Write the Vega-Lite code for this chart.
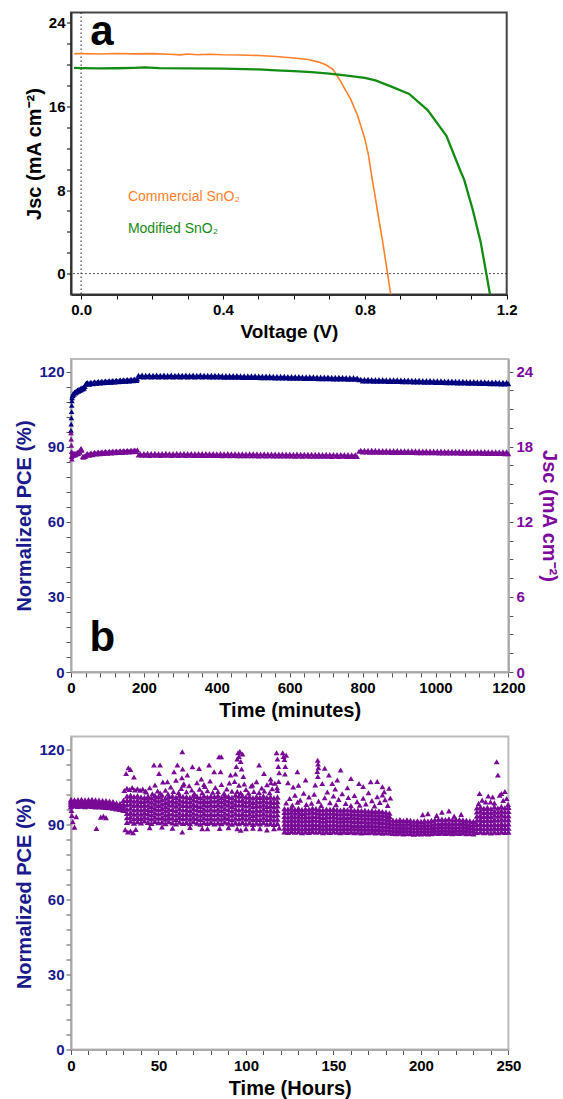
{
"$schema":"https://vega.github.io/schema/vega-lite/v6.json",
"background":"white",
"padding":{"left":13,"top":9.5,"right":0,"bottom":0},
"autosize":{"type":"pad"},
"bounds":"flush",
"spacing":64.5,
"config":{
 "font":"Liberation Sans",
 "axis":{"labelFont":"Liberation Sans","titleFont":"Liberation Sans","labelFontWeight":"bold","titleFontWeight":"bold","labelFontSize":15,"titleFontSize":20,"grid":false,"labelFlush":false,"labelOverlap":false,"tickSize":5},
 "text":{"font":"Liberation Sans"}
},
"vconcat":[
{
 "width":435.7,"height":282,
 "view":{"stroke":"#444444","strokeWidth":2},
 "resolve":{"axis":{"x":"independent","y":"independent"}},
 "layer":[
  {"data":{"values":[{}]},"mark":{"type":"rule","strokeDash":[1.5,2.5],"color":"#222222","strokeWidth":1},"encoding":{"x":{"datum":0,"type":"quantitative","axis":null}}},
  {"data":{"values":[{}]},"mark":{"type":"rule","strokeDash":[1.5,2.5],"color":"#222222","strokeWidth":1},"encoding":{"y":{"datum":0,"type":"quantitative","axis":null}}},
  {"data":{"values":[
   {"s":"Commercial","v":-0.02,"j":21.05},{"s":"Commercial","v":0,"j":21.06},{"s":"Commercial","v":0.05,"j":21.03},{"s":"Commercial","v":0.1,"j":21.08},{"s":"Commercial","v":0.15,"j":21.04},{"s":"Commercial","v":0.2,"j":21.06},{"s":"Commercial","v":0.25,"j":21.0},{"s":"Commercial","v":0.28,"j":20.94},{"s":"Commercial","v":0.3,"j":21.02},{"s":"Commercial","v":0.33,"j":20.95},{"s":"Commercial","v":0.36,"j":21.0},{"s":"Commercial","v":0.4,"j":20.95},{"s":"Commercial","v":0.45,"j":20.93},{"s":"Commercial","v":0.5,"j":20.88},{"s":"Commercial","v":0.55,"j":20.78},{"s":"Commercial","v":0.6,"j":20.65},{"s":"Commercial","v":0.64,"j":20.5},{"s":"Commercial","v":0.67,"j":20.25},{"s":"Commercial","v":0.69,"j":20.0},{"s":"Commercial","v":0.71,"j":19.55},{"s":"Commercial","v":0.73,"j":18.5},{"s":"Commercial","v":0.75,"j":17.3},{"s":"Commercial","v":0.76,"j":16.7},{"s":"Commercial","v":0.78,"j":15.1},{"s":"Commercial","v":0.8,"j":12.9},{"s":"Commercial","v":0.81,"j":11.4},{"s":"Commercial","v":0.82,"j":9.2},{"s":"Commercial","v":0.83,"j":7.2},{"s":"Commercial","v":0.84,"j":5.1},{"s":"Commercial","v":0.85,"j":3.1},{"s":"Commercial","v":0.86,"j":0.9},{"s":"Commercial","v":0.873,"j":-2.0},
   {"s":"Modified","v":-0.02,"j":19.7},{"s":"Modified","v":0,"j":19.68},{"s":"Modified","v":0.05,"j":19.65},{"s":"Modified","v":0.1,"j":19.66},{"s":"Modified","v":0.15,"j":19.7},{"s":"Modified","v":0.18,"j":19.74},{"s":"Modified","v":0.22,"j":19.68},{"s":"Modified","v":0.3,"j":19.65},{"s":"Modified","v":0.4,"j":19.62},{"s":"Modified","v":0.5,"j":19.55},{"s":"Modified","v":0.55,"j":19.45},{"s":"Modified","v":0.6,"j":19.38},{"s":"Modified","v":0.65,"j":19.3},{"s":"Modified","v":0.7,"j":19.15},{"s":"Modified","v":0.75,"j":18.95},{"s":"Modified","v":0.8,"j":18.75},{"s":"Modified","v":0.83,"j":18.5},{"s":"Modified","v":0.875,"j":17.9},{"s":"Modified","v":0.925,"j":17.2},{"s":"Modified","v":0.977,"j":15.65},{"s":"Modified","v":1.03,"j":13.2},{"s":"Modified","v":1.071,"j":9.7},{"s":"Modified","v":1.08,"j":9.0},{"s":"Modified","v":1.104,"j":6.15},{"s":"Modified","v":1.127,"j":2.95},{"s":"Modified","v":1.142,"j":0.1},{"s":"Modified","v":1.153,"j":-2.0}
  ]},
  "mark":{"type":"line","clip":true},
  "encoding":{
   "x":{"field":"v","type":"quantitative","scale":{"domain":[-0.0285,1.2],"nice":false,"zero":false},
        "axis":{"values":[0,0.1,0.2,0.3,0.4,0.5,0.6,0.7,0.8,0.9,1,1.1,1.2],"labelExpr":"indexof(['0.0','0.4','0.8','1.2'], format(datum.value, '.1f')) >= 0 ? format(datum.value, '.1f') : ''","title":"Voltage (V)","domainColor":"#333333","domainWidth":2,"tickColor":"#000000","tickSize":4.5,"labelPadding":3.5,"titlePadding":5,"labelColor":"#000000","titleColor":"#000000","titleFontSize":19}},
   "y":{"field":"j","type":"quantitative","scale":{"domain":[-2,25],"nice":false,"zero":false},
        "axis":{"values":[0,2,4,6,8,10,12,14,16,18,20,22,24],"labelExpr":"datum.value % 8 === 0 ? datum.label : ''","title":"Jsc (mA cm⁻²)","domainColor":"#333333","domainWidth":2,"tickColor":"#000000","tickSize":4.5,"labelPadding":1.5,"titlePadding":4,"labelColor":"#000000","titleColor":"#000000"}},
   "color":{"field":"s","type":"nominal","scale":{"domain":["Commercial","Modified"],"range":["#ff7f2a","#138c13"]},"legend":null},
   "strokeWidth":{"field":"s","type":"nominal","scale":{"domain":["Commercial","Modified"],"range":[1.6,2.3]},"legend":null}
  }},
  {"data":{"values":[{}]},"mark":{"type":"text","text":"a","fontSize":42,"fontWeight":"bold","align":"left","baseline":"alphabetic","color":"#000000"},"encoding":{"x":{"datum":0.026,"type":"quantitative","axis":null},"y":{"datum":21.9,"type":"quantitative","axis":null}}},
  {"data":{"values":[{}]},"mark":{"type":"text","text":"Commercial SnO₂","fontSize":14,"align":"left","baseline":"middle","color":"#ff7f2a"},"encoding":{"x":{"datum":0.132,"type":"quantitative","axis":null},"y":{"datum":7.36,"type":"quantitative","axis":null}}},
  {"data":{"values":[{}]},"mark":{"type":"text","text":"Modified SnO₂","fontSize":14,"align":"left","baseline":"middle","color":"#138c13"},"encoding":{"x":{"datum":0.132,"type":"quantitative","axis":null},"y":{"datum":4.3,"type":"quantitative","axis":null}}}
 ]
},
{
 "width":437.4,"height":313,
 "view":{"stroke":"#bbbbbb","strokeWidth":2},
 "data":{"values":[
  {"t":0,"p":96.5,"j":19.1},{"t":0.5,"p":99.0,"j":18.6},{"t":1,"p":101.5,"j":18.1},{"t":1.5,"p":104.0,"j":17.6},{"t":2,"p":106.5,"j":17.2},{"t":2.5,"p":108.3,"j":17.0},{"t":3,"p":109.5,"j":17.3},{"t":4,"p":110.3,"j":17.5},
  {"t":5,"p":110.4,"j":17.3},{"t":6,"p":111.2,"j":17.45},{"t":8,"p":110.9,"j":17.3},{"t":10,"p":111.8,"j":17.45},{"t":12,"p":111.4,"j":17.35},{"t":14,"p":112.2,"j":17.5},{"t":16,"p":111.8,"j":17.4},{"t":18,"p":112.6,"j":17.55},{"t":20,"p":112.1,"j":17.45},{"t":22,"p":112.9,"j":17.6},{"t":24,"p":112.4,"j":17.55},{"t":26,"p":113.2,"j":17.8},{"t":28,"p":112.7,"j":17.85},{"t":30,"p":113.5,"j":17.7},{"t":32,"p":113.0,"j":17.2},{"t":34,"p":113.8,"j":17.15},{"t":36,"p":113.3,"j":17.25},{"t":38,"p":114.0,"j":17.2},
  {"t":40,"p":115.0,"j":17.25},{"t":42.5,"p":115.4,"j":17.38},{"t":45,"p":115.6,"j":17.45},{"t":47.5,"p":115.1,"j":17.36},{"t":50,"p":114.9,"j":17.3},{"t":52.5,"p":115.5,"j":17.44},{"t":55,"p":115.7,"j":17.5},{"t":57.5,"p":115.2,"j":17.4},{"t":60,"p":115.1,"j":17.35},{"t":62.5,"p":115.6,"j":17.48},{"t":65,"p":115.9,"j":17.55},{"t":67.5,"p":115.4,"j":17.44},{"t":70,"p":115.3,"j":17.4},{"t":72.5,"p":115.8,"j":17.52},{"t":75,"p":116.0,"j":17.58},{"t":77.5,"p":115.5,"j":17.46},{"t":80,"p":115.4,"j":17.42},{"t":82.5,"p":115.9,"j":17.55},{"t":85,"p":116.1,"j":17.6},{"t":87.5,"p":115.6,"j":17.49},{"t":90,"p":115.5,"j":17.45},{"t":92.5,"p":116.0,"j":17.57},{"t":95,"p":116.2,"j":17.62},{"t":97.5,"p":115.7,"j":17.51},{"t":100,"p":115.6,"j":17.47},{"t":102.5,"p":116.1,"j":17.58},{"t":105,"p":116.3,"j":17.63},{"t":107.5,"p":115.8,"j":17.53},{"t":110,"p":115.7,"j":17.48},{"t":112.5,"p":116.2,"j":17.6},{"t":115,"p":116.4,"j":17.65},{"t":117.5,"p":115.9,"j":17.55},{"t":120,"p":115.8,"j":17.5},{"t":122.5,"p":116.3,"j":17.61},{"t":125,"p":116.5,"j":17.66},{"t":127.5,"p":116.0,"j":17.56},{"t":130,"p":115.9,"j":17.52},{"t":132.5,"p":116.4,"j":17.63},{"t":135,"p":116.6,"j":17.68},{"t":137.5,"p":116.1,"j":17.58},{"t":140,"p":116.0,"j":17.53},{"t":142.5,"p":116.5,"j":17.64},{"t":145,"p":116.7,"j":17.69},{"t":147.5,"p":116.2,"j":17.6},{"t":150,"p":116.1,"j":17.55},{"t":152.5,"p":116.6,"j":17.66},{"t":155,"p":116.8,"j":17.7},{"t":157.5,"p":116.3,"j":17.62},{"t":160,"p":116.2,"j":17.57},{"t":162.5,"p":116.7,"j":17.67},{"t":165,"p":116.9,"j":17.72},{"t":167.5,"p":116.4,"j":17.63},{"t":170,"p":116.3,"j":17.58},{"t":172.5,"p":116.8,"j":17.69},{"t":175,"p":117.0,"j":17.74},{"t":177.5,"p":116.5,"j":17.65},{"t":180,"p":116.4,"j":17.6},{"t":182,"p":117.0,"j":17.75},
  {"t":185,"p":118.5,"j":17.32},{"t":190,"p":117.9,"j":17.45},{"t":195,"p":118.6,"j":17.3},{"t":200,"p":117.8,"j":17.46},{"t":205,"p":118.5,"j":17.31},{"t":210,"p":117.9,"j":17.47},{"t":215,"p":118.6,"j":17.29},{"t":220,"p":117.8,"j":17.46},{"t":225,"p":118.5,"j":17.3},{"t":230,"p":117.9,"j":17.47},{"t":235,"p":118.6,"j":17.3},{"t":240,"p":117.8,"j":17.45},{"t":245,"p":118.5,"j":17.29},{"t":250,"p":117.9,"j":17.46},{"t":255,"p":118.6,"j":17.31},{"t":260,"p":117.8,"j":17.47},{"t":265,"p":118.5,"j":17.3},{"t":270,"p":117.9,"j":17.46},{"t":275,"p":118.6,"j":17.29},{"t":280,"p":117.8,"j":17.45},{"t":285,"p":118.5,"j":17.3},{"t":290,"p":117.9,"j":17.47},{"t":295,"p":118.6,"j":17.29},{"t":300,"p":117.8,"j":17.46},{"t":305,"p":118.5,"j":17.3},{"t":310,"p":117.9,"j":17.46},{"t":315,"p":118.6,"j":17.29},{"t":320,"p":117.8,"j":17.45},{"t":325,"p":118.5,"j":17.3},{"t":330,"p":117.9,"j":17.46},{"t":335,"p":118.6,"j":17.28},{"t":340,"p":117.8,"j":17.45},{"t":345,"p":118.5,"j":17.29},{"t":350,"p":117.9,"j":17.46},{"t":355,"p":118.6,"j":17.29},{"t":360,"p":117.8,"j":17.45},{"t":365,"p":118.5,"j":17.28},{"t":370,"p":117.9,"j":17.46},{"t":375,"p":118.5,"j":17.29},{"t":380,"p":117.8,"j":17.45},{"t":385,"p":118.5,"j":17.28},{"t":390,"p":117.8,"j":17.45},{"t":395,"p":118.5,"j":17.29},{"t":400,"p":117.8,"j":17.44},
  {"t":405,"p":118.5,"j":17.28},{"t":410,"p":117.8,"j":17.45},{"t":415,"p":118.4,"j":17.27},{"t":420,"p":117.7,"j":17.44},{"t":425,"p":118.4,"j":17.28},{"t":430,"p":117.7,"j":17.45},{"t":435,"p":118.4,"j":17.27},{"t":440,"p":117.7,"j":17.44},{"t":445,"p":118.4,"j":17.28},{"t":450,"p":117.7,"j":17.44},{"t":455,"p":118.4,"j":17.27},{"t":460,"p":117.7,"j":17.43},{"t":465,"p":118.3,"j":17.26},{"t":470,"p":117.6,"j":17.44},{"t":475,"p":118.3,"j":17.27},{"t":480,"p":117.6,"j":17.43},{"t":485,"p":118.3,"j":17.26},{"t":490,"p":117.6,"j":17.44},{"t":495,"p":118.3,"j":17.27},{"t":500,"p":117.6,"j":17.43},{"t":505,"p":118.3,"j":17.26},{"t":510,"p":117.6,"j":17.43},{"t":515,"p":118.2,"j":17.25},{"t":520,"p":117.5,"j":17.42},{"t":525,"p":118.2,"j":17.26},{"t":530,"p":117.5,"j":17.43},{"t":535,"p":118.2,"j":17.25},{"t":540,"p":117.5,"j":17.42},{"t":545,"p":118.2,"j":17.26},{"t":550,"p":117.5,"j":17.42},{"t":555,"p":118.1,"j":17.25},{"t":560,"p":117.4,"j":17.42},{"t":565,"p":118.1,"j":17.24},{"t":570,"p":117.4,"j":17.41},{"t":575,"p":118.1,"j":17.25},{"t":580,"p":117.4,"j":17.42},{"t":585,"p":118.1,"j":17.24},{"t":590,"p":117.4,"j":17.41},{"t":595,"p":118.0,"j":17.25},{"t":600,"p":117.3,"j":17.41},{"t":605,"p":118.0,"j":17.24},{"t":610,"p":117.3,"j":17.4},{"t":615,"p":118.0,"j":17.23},{"t":620,"p":117.3,"j":17.41},{"t":625,"p":118.0,"j":17.24},{"t":630,"p":117.3,"j":17.4},{"t":635,"p":117.9,"j":17.23},{"t":640,"p":117.2,"j":17.4},{"t":645,"p":117.9,"j":17.24},{"t":650,"p":117.2,"j":17.39},{"t":655,"p":117.9,"j":17.23},{"t":660,"p":117.2,"j":17.4},{"t":665,"p":117.9,"j":17.22},{"t":670,"p":117.2,"j":17.39},{"t":675,"p":117.8,"j":17.23},{"t":680,"p":117.1,"j":17.39},{"t":685,"p":117.8,"j":17.22},{"t":690,"p":117.1,"j":17.38},{"t":695,"p":117.8,"j":17.23},{"t":700,"p":117.1,"j":17.39},{"t":705,"p":117.8,"j":17.22},{"t":710,"p":117.1,"j":17.38},{"t":715,"p":117.7,"j":17.21},{"t":720,"p":117.0,"j":17.38},{"t":725,"p":117.7,"j":17.22},{"t":730,"p":117.0,"j":17.37},{"t":735,"p":117.7,"j":17.21},{"t":740,"p":117.0,"j":17.38},{"t":745,"p":117.7,"j":17.22},{"t":750,"p":117.0,"j":17.37},{"t":755,"p":117.6,"j":17.21},{"t":760,"p":116.9,"j":17.37},{"t":765,"p":117.6,"j":17.2},{"t":770,"p":116.9,"j":17.36},{"t":775,"p":117.6,"j":17.21},{"t":780,"p":116.9,"j":17.36},{"t":785,"p":117.4,"j":17.2},
  {"t":790,"p":116.7,"j":17.62},{"t":795,"p":116.9,"j":17.72},{"t":800,"p":116.2,"j":17.56},{"t":805,"p":116.9,"j":17.72},{"t":810,"p":116.2,"j":17.56},{"t":815,"p":116.9,"j":17.71},{"t":820,"p":116.2,"j":17.55},{"t":825,"p":116.8,"j":17.71},{"t":830,"p":116.1,"j":17.55},{"t":835,"p":116.8,"j":17.71},{"t":840,"p":116.1,"j":17.55},{"t":845,"p":116.8,"j":17.7},{"t":850,"p":116.1,"j":17.54},{"t":855,"p":116.8,"j":17.7},{"t":860,"p":116.1,"j":17.54},{"t":865,"p":116.7,"j":17.7},{"t":870,"p":116.0,"j":17.54},{"t":875,"p":116.7,"j":17.69},{"t":880,"p":116.0,"j":17.53},{"t":885,"p":116.7,"j":17.69},{"t":890,"p":116.0,"j":17.53},{"t":895,"p":116.7,"j":17.69},{"t":900,"p":116.0,"j":17.53},{"t":905,"p":116.6,"j":17.68},{"t":910,"p":115.9,"j":17.52},{"t":915,"p":116.6,"j":17.68},{"t":920,"p":115.9,"j":17.52},{"t":925,"p":116.6,"j":17.68},{"t":930,"p":115.9,"j":17.52},{"t":935,"p":116.5,"j":17.67},{"t":940,"p":115.8,"j":17.52},{"t":945,"p":116.5,"j":17.67},{"t":950,"p":115.8,"j":17.51},{"t":955,"p":116.5,"j":17.67},{"t":960,"p":115.8,"j":17.51},{"t":965,"p":116.4,"j":17.66},{"t":970,"p":115.7,"j":17.51},{"t":975,"p":116.4,"j":17.66},{"t":980,"p":115.7,"j":17.5},{"t":985,"p":116.4,"j":17.66},{"t":990,"p":115.7,"j":17.5},{"t":995,"p":116.3,"j":17.65},{"t":1000,"p":115.6,"j":17.5},{"t":1005,"p":116.3,"j":17.65},{"t":1010,"p":115.6,"j":17.49},{"t":1015,"p":116.3,"j":17.65},{"t":1020,"p":115.6,"j":17.49},{"t":1025,"p":116.2,"j":17.64},{"t":1030,"p":115.5,"j":17.49},{"t":1035,"p":116.2,"j":17.64},{"t":1040,"p":115.5,"j":17.48},{"t":1045,"p":116.2,"j":17.64},{"t":1050,"p":115.5,"j":17.48},{"t":1055,"p":116.1,"j":17.63},{"t":1060,"p":115.4,"j":17.48},{"t":1065,"p":116.1,"j":17.63},{"t":1070,"p":115.4,"j":17.47},{"t":1075,"p":116.1,"j":17.63},{"t":1080,"p":115.4,"j":17.47},{"t":1085,"p":116.0,"j":17.62},{"t":1090,"p":115.3,"j":17.47},{"t":1095,"p":116.0,"j":17.62},{"t":1100,"p":115.3,"j":17.46},{"t":1105,"p":116.0,"j":17.62},{"t":1110,"p":115.3,"j":17.46},{"t":1115,"p":115.9,"j":17.61},{"t":1120,"p":115.2,"j":17.46},{"t":1125,"p":115.9,"j":17.61},{"t":1130,"p":115.2,"j":17.45},{"t":1135,"p":115.9,"j":17.61},{"t":1140,"p":115.2,"j":17.45},{"t":1145,"p":115.8,"j":17.6},{"t":1150,"p":115.1,"j":17.45},{"t":1155,"p":115.8,"j":17.6},{"t":1160,"p":115.1,"j":17.44},{"t":1165,"p":115.8,"j":17.6},{"t":1170,"p":115.1,"j":17.44},{"t":1175,"p":115.7,"j":17.59},{"t":1180,"p":115.0,"j":17.44},{"t":1185,"p":115.7,"j":17.59},{"t":1190,"p":115.0,"j":17.43},{"t":1195,"p":115.7,"j":17.59},{"t":1200,"p":115.1,"j":17.43}
 ]},
 "resolve":{"scale":{"y":"independent"},"axis":{"x":"independent","y":"independent"}},
 "layer":[
  {"resolve":{"axis":{"x":"independent","y":"independent"}},
   "layer":[
   {"mark":{"type":"point","shape":"triangle-up","filled":true,"size":32,"color":"#00007f","opacity":1},
    "encoding":{
     "x":{"field":"t","type":"quantitative","scale":{"domain":[0,1200],"nice":false,"zero":false},
          "axis":{"values":[0,40,80,120,160,200,240,280,320,360,400,440,480,520,560,600,640,680,720,760,800,840,880,920,960,1000,1040,1080,1120,1160,1200],"format":"d","labelExpr":"datum.value % 200 === 0 ? datum.label : ''","title":"Time (minutes)","domainColor":"#aaaaaa","domainWidth":2,"tickColor":"#555555","tickSize":5,"labelPadding":3.5,"titlePadding":5,"labelColor":"#000000","titleColor":"#000000"}},
     "y":{"field":"p","type":"quantitative","scale":{"domain":[0,125],"nice":false,"zero":false},
          "axis":{"values":[0,6,12,18,24,30,36,42,48,54,60,66,72,78,84,90,96,102,108,114,120],"format":"d","labelExpr":"datum.value % 30 === 0 ? datum.label : ''","title":"Normalized PCE (%)","domainColor":"#aaaaaa","domainWidth":2,"tickColor":"#555555","tickSize":5,"labelPadding":2,"titlePadding":4,"labelColor":"#1a1a8c","titleColor":"#1a1a8c"}}
    }},
   {"data":{"values":[{}]},"mark":{"type":"text","text":"b","fontSize":42,"fontWeight":"bold","align":"left","baseline":"alphabetic","color":"#000000"},"encoding":{"x":{"datum":50.5,"type":"quantitative","axis":null},"y":{"datum":8.3,"type":"quantitative","axis":null}}}
  ]},
  {"mark":{"type":"point","shape":"triangle-up","filled":true,"size":32,"color":"#780a96","opacity":1},
   "encoding":{
    "x":{"field":"t","type":"quantitative","axis":null},
    "y":{"field":"j","type":"quantitative","scale":{"domain":[0,25],"nice":false,"zero":false},
         "axis":{"orient":"right","values":[0,1.5,3,4.5,6,7.5,9,10.5,12,13.5,15,16.5,18,19.5,21,22.5,24],"format":"d","labelExpr":"datum.value % 6 === 0 ? datum.label : ''","title":"Jsc (mA cm⁻²)","domainColor":"#aaaaaa","domainWidth":2,"tickColor":"#555555","tickSize":4.5,"labelPadding":3,"titlePadding":6,"labelColor":"#7d0a9c","titleColor":"#7d0a9c"}}
   }}
 ]
},
{
 "width":437.4,"height":313,
 "view":{"stroke":"#bbbbbb","strokeWidth":2},
 "resolve":{"axis":{"x":"independent","y":"independent"}},
 "layer":[
  {"data":{"values":[
   {"h":0,"a":97.0,"b":97.8,"c":98.5,"d":99.2,"e":99.8},{"h":2,"a":97.3,"b":97.9,"c":98.6,"d":99.3,"e":99.6},{"h":4,"a":97.1,"b":97.7,"c":98.4,"d":99.0,"e":99.7},{"h":6,"a":97.2,"b":98.0,"c":98.6,"d":99.2,"e":99.8},{"h":8,"a":97.0,"b":97.8,"c":98.3,"d":99.1,"e":99.6},{"h":10,"a":97.2,"b":97.9,"c":98.5,"d":99.3,"e":99.7},{"h":12,"a":97.1,"b":97.6,"c":98.4,"d":99.0,"e":99.8},{"h":14,"a":96.9,"b":97.7,"c":98.5,"d":99.2,"e":99.6},{"h":16,"a":97.0,"b":97.8,"c":98.3,"d":99.0,"e":99.5},{"h":18,"a":96.8,"b":97.5,"c":98.2,"d":98.9,"e":99.4},{"h":20,"a":96.7,"b":97.4,"c":98.1,"d":98.8,"e":99.3},{"h":22,"a":96.6,"b":97.3,"c":98.0,"d":98.6,"e":99.1},{"h":24,"a":96.4,"b":97.1,"c":97.8,"d":98.4,"e":98.9},{"h":26,"a":96.1,"b":96.7,"c":97.3,"d":97.9,"e":98.4},{"h":28,"a":95.9,"b":96.5,"c":97.1,"d":97.7,"e":98.2},{"h":30,"a":95.5,"b":96.4,"c":97.2,"d":98.0,"e":99.5},
   {"h":32,"a":90.8,"b":92.6,"c":94.3,"d":96.0,"e":97.8,"f":99.5,"g":101.2},{"h":34,"a":91.2,"b":92.9,"c":94.6,"d":96.4,"e":98.1,"f":99.8,"g":101.5},{"h":36,"a":90.5,"b":92.2,"c":94.0,"d":95.7,"e":97.5,"f":99.2,"g":101.0},{"h":38,"a":91.0,"b":92.7,"c":94.4,"d":96.1,"e":97.9,"f":99.6,"g":101.3},{"h":40,"a":90.6,"b":92.3,"c":94.0,"d":95.7,"e":97.4,"f":99.1,"g":100.8},{"h":42,"a":91.3,"b":92.9,"c":94.5,"d":96.1,"e":97.7,"f":99.2,"g":100.6},{"h":44,"a":90.8,"b":92.5,"c":94.2,"d":95.9,"e":97.6,"f":99.4,"g":101.1},{"h":46,"a":90.4,"b":92.1,"c":93.8,"d":95.5,"e":97.1,"f":98.8,"g":100.5},{"h":48,"a":91.1,"b":92.8,"c":94.5,"d":96.3,"e":98.0,"f":99.7,"g":101.4},{"h":50,"a":90.7,"b":92.4,"c":94.1,"d":95.8,"e":97.5,"f":99.2,"g":100.9},{"h":52,"a":90.9,"b":92.7,"c":94.5,"d":96.3,"e":98.0,"f":99.8,"g":101.6},{"h":54,"a":90.3,"b":92.0,"c":93.7,"d":95.4,"e":97.0,"f":98.7,"g":100.4},{"h":56,"a":91.0,"b":92.7,"c":94.3,"d":96.0,"e":97.7,"f":99.3,"g":101.0},{"h":58,"a":90.6,"b":92.4,"c":94.1,"d":95.9,"e":97.7,"f":99.4,"g":101.2},{"h":60,"a":90.2,"b":91.9,"c":93.7,"d":95.4,"e":97.2,"f":98.9,"g":100.7},{"h":62,"a":90.9,"b":92.7,"c":94.4,"d":96.2,"e":98.0,"f":99.7,"g":101.5},{"h":64,"a":90.4,"b":92.2,"c":93.9,"d":95.7,"e":97.5,"f":99.2,"g":101.0},{"h":66,"a":90.8,"b":92.5,"c":94.2,"d":95.9,"e":97.5,"f":99.2,"g":100.9},{"h":68,"a":90.3,"b":92.0,"c":93.7,"d":95.4,"e":97.2,"f":98.9,"g":100.6},{"h":70,"a":91.0,"b":92.7,"c":94.4,"d":96.2,"e":97.9,"f":99.7,"g":101.4},{"h":72,"a":90.5,"b":92.3,"c":94.0,"d":95.8,"e":97.5,"f":99.3,"g":101.1},{"h":74,"a":90.1,"b":91.9,"c":93.6,"d":95.4,"e":97.1,"f":98.9,"g":100.6},{"h":76,"a":90.7,"b":92.5,"c":94.3,"d":96.0,"e":97.8,"f":99.5,"g":101.3},{"h":78,"a":90.4,"b":92.1,"c":93.8,"d":95.6,"e":97.3,"f":99.0,"g":100.8},{"h":80,"a":90.8,"b":92.5,"c":94.2,"d":96.0,"e":97.7,"f":99.5,"g":101.2},{"h":82,"a":90.2,"b":92.0,"c":93.8,"d":95.6,"e":97.4,"f":99.2,"g":101.0},{"h":84,"a":90.6,"b":92.4,"c":94.2,"d":96.0,"e":97.8,"f":99.6,"g":101.4},{"h":86,"a":90.3,"b":92.0,"c":93.7,"d":95.5,"e":97.2,"f":99.0,"g":100.7},{"h":88,"a":90.9,"b":92.7,"c":94.4,"d":96.2,"e":98.0,"f":99.7,"g":101.5},{"h":90,"a":90.5,"b":92.3,"c":94.0,"d":95.8,"e":97.6,"f":99.3,"g":101.1},{"h":92,"a":90.1,"b":91.8,"c":93.6,"d":95.3,"e":97.1,"f":98.8,"g":100.6},{"h":94,"a":90.6,"b":92.4,"c":94.3,"d":96.1,"e":97.9,"f":99.7,"g":101.6},{"h":96,"a":90.3,"b":92.1,"c":93.9,"d":95.7,"e":97.6,"f":99.4,"g":101.2},{"h":98,"a":90.8,"b":92.6,"c":94.3,"d":96.1,"e":97.9,"f":99.6,"g":101.4},{"h":100,"a":90.2,"b":92.0,"c":93.7,"d":95.5,"e":97.3,"f":99.0,"g":100.8},{"h":102,"a":90.6,"b":92.4,"c":94.1,"d":95.8,"e":97.6,"f":99.3,"g":101.0},{"h":104,"a":90.0,"b":91.8,"c":93.5,"d":95.2,"e":97.0,"f":98.7,"g":100.5},{"h":106,"a":90.5,"b":92.3,"c":94.0,"d":95.7,"e":97.5,"f":99.2,"g":101.0},{"h":108,"a":90.2,"b":91.9,"c":93.7,"d":95.4,"e":97.2,"f":98.9,"g":100.7},{"h":110,"a":90.7,"b":92.5,"c":94.2,"d":96.0,"e":97.7,"f":99.5,"g":101.2},{"h":112,"a":90.1,"b":91.9,"c":93.6,"d":95.3,"e":97.1,"f":98.8,"g":100.6},{"h":114,"a":90.4,"b":92.2,"c":93.9,"d":95.6,"e":97.4,"f":99.1,"g":100.9},{"h":116,"a":90.0,"b":91.7,"c":93.4,"d":95.2,"e":96.9,"f":98.7,"g":100.4},{"h":118,"a":90.3,"b":92.0,"c":93.8,"d":95.5,"e":97.3,"f":99.0,"g":100.8},
   {"h":122,"a":87.0,"b":88.5,"c":90.1,"d":91.6,"e":93.1,"f":94.7,"g":96.2},{"h":124,"a":86.8,"b":88.3,"c":89.9,"d":91.4,"e":92.9,"f":94.5,"g":96.0},{"h":126,"a":87.2,"b":88.7,"c":90.2,"d":91.8,"e":93.3,"f":94.9,"g":96.4},{"h":128,"a":86.9,"b":88.4,"c":89.9,"d":91.4,"e":92.9,"f":94.4,"g":95.9},{"h":130,"a":87.1,"b":88.6,"c":90.2,"d":91.7,"e":93.2,"f":94.8,"g":96.3},{"h":132,"a":86.7,"b":88.2,"c":89.8,"d":91.3,"e":92.8,"f":94.3,"g":95.8},{"h":134,"a":87.0,"b":88.5,"c":90.0,"d":91.6,"e":93.1,"f":94.6,"g":96.1},{"h":136,"a":86.8,"b":88.3,"c":89.9,"d":91.4,"e":92.9,"f":94.5,"g":96.0},{"h":138,"a":87.2,"b":88.7,"c":90.2,"d":91.8,"e":93.3,"f":94.9,"g":96.4},{"h":140,"a":86.9,"b":88.5,"c":90.0,"d":91.6,"e":93.1,"f":94.7,"g":96.2},{"h":142,"a":87.1,"b":88.6,"c":90.0,"d":91.5,"e":93.0,"f":94.4,"g":95.9},{"h":144,"a":86.7,"b":88.2,"c":89.7,"d":91.2,"e":92.7,"f":94.2,"g":95.7},{"h":146,"a":87.0,"b":88.5,"c":90.0,"d":91.5,"e":93.0,"f":94.5,"g":96.0},{"h":148,"a":86.8,"b":88.3,"c":89.8,"d":91.4,"e":92.9,"f":94.4,"g":95.9},{"h":150,"a":87.1,"b":88.6,"c":90.1,"d":91.6,"e":93.1,"f":94.6,"g":96.1},{"h":152,"a":86.9,"b":88.4,"c":89.9,"d":91.4,"e":92.8,"f":94.3,"g":95.8},{"h":154,"a":86.7,"b":88.2,"c":89.7,"d":91.2,"e":92.6,"f":94.1,"g":95.6},{"h":156,"a":87.0,"b":88.5,"c":90.0,"d":91.5,"e":92.9,"f":94.4,"g":95.9},{"h":158,"a":86.8,"b":88.3,"c":89.8,"d":91.3,"e":92.7,"f":94.2,"g":95.7},{"h":160,"a":87.0,"b":88.5,"c":89.9,"d":91.4,"e":92.9,"f":94.3,"g":95.8},{"h":162,"a":86.7,"b":88.2,"c":89.6,"d":91.1,"e":92.6,"f":94.0,"g":95.5},{"h":164,"a":86.9,"b":88.4,"c":89.8,"d":91.3,"e":92.7,"f":94.2,"g":95.6},{"h":166,"a":86.6,"b":88.1,"c":89.5,"d":91.0,"e":92.5,"f":93.9,"g":95.4},{"h":168,"a":86.8,"b":88.3,"c":89.7,"d":91.2,"e":92.6,"f":94.1,"g":95.5},{"h":170,"a":86.7,"b":88.1,"c":89.5,"d":90.9,"e":92.4,"f":93.8,"g":95.2},{"h":172,"a":86.9,"b":88.3,"c":89.7,"d":91.2,"e":92.6,"f":94.0,"g":95.4},{"h":174,"a":86.6,"b":88.0,"c":89.4,"d":90.9,"e":92.3,"f":93.7,"g":95.1},{"h":176,"a":86.8,"b":88.2,"c":89.6,"d":91.1,"e":92.5,"f":93.9,"g":95.3},{"h":178,"a":86.5,"b":87.9,"c":89.3,"d":90.8,"e":92.2,"f":93.6,"g":95.0},{"h":180,"a":86.7,"b":88.0,"c":89.4,"d":90.8,"e":92.1,"f":93.5,"g":94.8},{"h":182,"a":86.6,"b":87.9,"c":89.2,"d":90.5,"e":91.8,"f":93.1,"g":94.4},
   {"h":184,"a":86.4,"b":87.7,"c":89.0,"d":90.3,"e":91.6},{"h":186,"a":86.3,"b":87.6,"c":88.9,"d":90.2,"e":91.5},{"h":188,"a":86.5,"b":87.8,"c":89.1,"d":90.4,"e":91.8},{"h":190,"a":86.2,"b":87.5,"c":88.8,"d":90.1,"e":91.4},{"h":192,"a":86.4,"b":87.7,"c":89.0,"d":90.4,"e":91.7},{"h":194,"a":86.3,"b":87.6,"c":88.9,"d":90.2,"e":91.5},{"h":196,"a":86.1,"b":87.4,"c":88.7,"d":90.0,"e":91.2},{"h":198,"a":86.3,"b":87.5,"c":88.8,"d":90.0,"e":91.3},{"h":200,"a":86.2,"b":87.5,"c":88.7,"d":89.9,"e":91.1},{"h":202,"a":86.4,"b":87.6,"c":88.9,"d":90.1,"e":91.4},{"h":204,"a":86.2,"b":87.4,"c":88.6,"d":89.9,"e":91.2},{"h":206,"a":86.3,"b":87.6,"c":88.8,"d":90.1,"e":91.5},{"h":208,"a":86.5,"b":87.8,"c":89.1,"d":90.4,"e":91.8},{"h":210,"a":86.4,"b":87.7,"c":89.0,"d":90.3,"e":91.9},{"h":212,"a":86.6,"b":87.9,"c":89.2,"d":90.6,"e":92.0},{"h":214,"a":86.4,"b":87.7,"c":89.0,"d":90.4,"e":91.8},{"h":216,"a":86.5,"b":87.8,"c":89.2,"d":90.5,"e":92.1},{"h":218,"a":86.3,"b":87.6,"c":88.9,"d":90.3,"e":91.7},{"h":220,"a":86.5,"b":87.8,"c":89.1,"d":90.5,"e":91.9},{"h":222,"a":86.4,"b":87.7,"c":89.0,"d":90.4,"e":91.8},{"h":224,"a":86.6,"b":87.9,"c":89.2,"d":90.5,"e":91.7},{"h":226,"a":86.3,"b":87.6,"c":88.9,"d":90.2,"e":91.5},{"h":228,"a":86.4,"b":87.6,"c":88.8,"d":90.0,"e":91.3},{"h":230,"a":86.2,"b":87.5,"c":88.7,"d":89.9,"e":91.1},
   {"h":232,"a":86.8,"b":88.4,"c":90.0,"d":91.6,"e":93.2,"f":94.9,"g":96.5},{"h":234,"a":87.0,"b":88.6,"c":90.3,"d":91.9,"e":93.5,"f":95.2,"g":96.8},{"h":236,"a":86.7,"b":88.3,"c":89.9,"d":91.5,"e":93.1,"f":94.7,"g":96.3},{"h":238,"a":86.9,"b":88.5,"c":90.1,"d":91.8,"e":93.4,"f":95.0,"g":96.6},{"h":240,"a":86.6,"b":88.2,"c":89.8,"d":91.4,"e":93.0,"f":94.6,"g":96.2},{"h":242,"a":86.9,"b":88.6,"c":90.2,"d":91.9,"e":93.6,"f":95.2,"g":96.9},{"h":244,"a":86.7,"b":88.3,"c":89.9,"d":91.6,"e":93.2,"f":94.8,"g":96.4},{"h":246,"a":87.0,"b":88.7,"c":90.3,"d":92.0,"e":93.7,"f":95.3,"g":97.0},{"h":248,"a":86.8,"b":88.4,"c":90.0,"d":91.7,"e":93.3,"f":94.9,"g":96.5},{"h":250,"a":86.9,"b":88.5,"c":90.2,"d":91.8,"e":93.4,"f":95.1,"g":96.7}
  ]},
  "transform":[{"fold":["a","b","c","d","e","f","g"],"as":["k","p"]}],
  "mark":{"type":"point","shape":"triangle-up","filled":true,"size":40,"color":"#780a96","opacity":1},
  "encoding":{
   "x":{"field":"h","type":"quantitative","scale":{"domain":[0,250],"nice":false,"zero":false},
        "axis":{"values":[0,10,20,30,40,50,60,70,80,90,100,110,120,130,140,150,160,170,180,190,200,210,220,230,240,250],"format":"d","labelExpr":"datum.value % 50 === 0 ? datum.label : ''","title":"Time (Hours)","domainColor":"#aaaaaa","domainWidth":2,"tickColor":"#555555","tickSize":5,"labelPadding":3.5,"titlePadding":5,"labelColor":"#000000","titleColor":"#000000"}},
   "y":{"field":"p","type":"quantitative","scale":{"domain":[0,125],"nice":false,"zero":false},
        "axis":{"values":[0,6,12,18,24,30,36,42,48,54,60,66,72,78,84,90,96,102,108,114,120],"format":"d","labelExpr":"datum.value % 30 === 0 ? datum.label : ''","title":"Normalized PCE (%)","domainColor":"#aaaaaa","domainWidth":2,"tickColor":"#555555","tickSize":5,"labelPadding":2,"titlePadding":4,"labelColor":"#1a1a8c","titleColor":"#1a1a8c"}}
  }},
  {"data":{"values":[
   {"h":0.3,"p":95.5},{"h":0.5,"p":93.5},{"h":1,"p":91},{"h":2,"p":88.8},{"h":3,"p":93},{"h":14.5,"p":88.3},{"h":17,"p":92.8},{"h":18.5,"p":93.2},{"h":20,"p":92.6},
   {"h":30.5,"p":103.4},{"h":32,"p":104.3},{"h":33.5,"p":103.8},{"h":35,"p":104.6},{"h":36.5,"p":103.6},{"h":38,"p":104.1},{"h":39.5,"p":103.5},{"h":41,"p":104.0},{"h":42.5,"p":103.2},{"h":31.5,"p":110.2},{"h":32.8,"p":112.5},{"h":34,"p":111.8},{"h":36,"p":108.8},
   {"h":31,"p":87.8},{"h":32.5,"p":86.9},{"h":34,"p":87.3},{"h":35.5,"p":86.6},{"h":37,"p":87.9},
   {"h":43,"p":102.8},{"h":45,"p":104.5},{"h":46.5,"p":102.1},{"h":48,"p":105.6},{"h":49.5,"p":103.2},{"h":51,"p":102.4},{"h":52.5,"p":106.8},{"h":54,"p":103.5},{"h":55.5,"p":102.0},{"h":57,"p":104.8},{"h":58.5,"p":103.0},{"h":60,"p":107.5},{"h":61.5,"p":102.6},{"h":63,"p":104.2},{"h":64.5,"p":106.1},{"h":66,"p":102.9},{"h":67.5,"p":105.3},{"h":69,"p":103.6},{"h":70.5,"p":102.2},{"h":72,"p":106.5},{"h":73.5,"p":103.9},{"h":75,"p":102.5},{"h":76.5,"p":105.0},{"h":78,"p":103.3},{"h":79.5,"p":107.2},{"h":81,"p":102.7},{"h":82.5,"p":104.6},{"h":84,"p":103.0},{"h":86,"p":105.8},{"h":87.5,"p":102.3},{"h":89,"p":104.0},{"h":90.5,"p":106.4},{"h":92,"p":103.1},{"h":100,"p":103.8},{"h":101.5,"p":102.4},{"h":103,"p":105.2},{"h":104.5,"p":103.0},{"h":106,"p":106.9},{"h":107.5,"p":102.6},{"h":109,"p":104.4},{"h":110.5,"p":103.2},{"h":112,"p":105.7},{"h":113.5,"p":102.5},{"h":115,"p":104.1},{"h":116.5,"p":106.3},{"h":118,"p":103.4},
   {"h":93.5,"p":107},{"h":94,"p":110},{"h":94.5,"p":113},{"h":95,"p":116},{"h":95.5,"p":118.5},{"h":96,"p":117},{"h":96.5,"p":119},{"h":97,"p":115},{"h":97.5,"p":112},{"h":98,"p":118},{"h":98.5,"p":109},{"h":96,"p":105.5},{"h":95,"p":103},{"h":97,"p":102.5},{"h":99,"p":106},
   {"h":63.6,"p":118.9},{"h":63.8,"p":112},{"h":63.4,"p":108.5},{"h":64,"p":105.5},
   {"h":117.5,"p":118.5},{"h":118,"p":116},{"h":118.5,"p":113},{"h":119,"p":110.5},{"h":118.7,"p":107},{"h":117.8,"p":104.5},{"h":121,"p":118.5},{"h":121.5,"p":117},{"h":122,"p":115.8},{"h":122.5,"p":113},{"h":123,"p":117.5},{"h":122.3,"p":110},
   {"h":141,"p":115.5},{"h":141.2,"p":114},{"h":141.4,"p":112.5},{"h":140.8,"p":111},{"h":141.1,"p":109},
   {"h":47.4,"p":113.6},{"h":50.9,"p":113.6},{"h":50.3,"p":110.2},{"h":55.1,"p":106.9},{"h":58.9,"p":110.9},{"h":60.8,"p":113.6},{"h":66.5,"p":109.6},{"h":69.4,"p":112.9},{"h":73.2,"p":112.2},{"h":74.5,"p":108},{"h":76,"p":105.8},{"h":78.9,"p":113.6},{"h":81.8,"p":110.9},{"h":84.6,"p":116.9},{"h":85.9,"p":116.9},{"h":85.5,"p":110.9},{"h":91.2,"p":109.6},{"h":103.7,"p":105.6},{"h":107.5,"p":113.6},{"h":110.3,"p":110.2},{"h":114.1,"p":108},{"h":114.3,"p":106.5},
   {"h":129.4,"p":110.9},{"h":134.1,"p":107.6},{"h":143.6,"p":106.2},{"h":147.4,"p":109.6},{"h":149.3,"p":106.2},{"h":152.2,"p":107.6},{"h":154.1,"p":111.6},{"h":164.6,"p":106.2},{"h":171.3,"p":106.9},{"h":178,"p":104.9},{"h":181.8,"p":104.3},{"h":179,"p":102.9},{"h":124,"p":106.5},{"h":127,"p":104.8},{"h":130,"p":105.5},{"h":139.6,"p":105.6},{"h":158,"p":104.5},{"h":167,"p":105},{"h":160,"p":108.2},{"h":145,"p":112.3},{"h":151,"p":104},{"h":175,"p":107},
   {"h":123,"p":98.5},{"h":125,"p":100.2},{"h":126.5,"p":97.6},{"h":128,"p":101.5},{"h":129.5,"p":98.8},{"h":131,"p":99.6},{"h":133,"p":102.3},{"h":134.5,"p":97.9},{"h":136,"p":100.8},{"h":137.5,"p":98.4},{"h":139,"p":101.9},{"h":141.5,"p":99.2},{"h":143,"p":97.5},{"h":145,"p":100.5},{"h":146.5,"p":102.8},{"h":148,"p":98.6},{"h":150,"p":101.2},{"h":151.5,"p":97.8},{"h":153,"p":99.9},{"h":155,"p":102.1},{"h":157,"p":98.3},{"h":158.5,"p":100.6},{"h":160,"p":97.4},{"h":162,"p":101.4},{"h":163.5,"p":99.0},{"h":165,"p":97.6},{"h":167,"p":100.3},{"h":168.5,"p":98.1},{"h":170,"p":102.5},{"h":172,"p":99.4},{"h":173.5,"p":97.3},{"h":175,"p":100.9},{"h":176.5,"p":98.7},{"h":178,"p":101.6},{"h":179.5,"p":99.8},{"h":181,"p":97.5},{"h":182.5,"p":100.4},
   {"h":63.6,"p":86.9},{"h":75,"p":88.2},{"h":78,"p":88.2},{"h":95,"p":88.2},{"h":97,"p":87.6},{"h":100,"p":88.2},{"h":108,"p":88.2},{"h":112,"p":87.7},{"h":116,"p":88.2},{"h":119,"p":88.5},{"h":45,"p":88.6},{"h":52,"p":88.9},{"h":58,"p":88.4},{"h":68,"p":88.7},{"h":85,"p":88.3},{"h":90,"p":88.6},{"h":104,"p":88.4},
   {"h":201,"p":93.8},{"h":204,"p":94.2},{"h":212,"p":94.8},{"h":216,"p":95.3},{"h":223,"p":93.9},{"h":209,"p":93.5},{"h":219,"p":93.2},
   {"h":233.5,"p":102.2},{"h":243.3,"p":114.9},{"h":244,"p":109.6},{"h":246,"p":102.2},{"h":239.8,"p":98.9},{"h":237,"p":98.9},{"h":241,"p":100.8},{"h":245,"p":101.5},{"h":247,"p":99.5},{"h":249,"p":100.2},{"h":248,"p":103},{"h":242,"p":98.5},{"h":235,"p":99.6},{"h":238.5,"p":101.2},{"h":249.8,"p":97.9},{"h":233,"p":98.3}
  ]},
  "mark":{"type":"point","shape":"triangle-up","filled":true,"size":34,"color":"#780a96","opacity":1},
  "encoding":{"x":{"field":"h","type":"quantitative","axis":null},"y":{"field":"p","type":"quantitative","axis":null}}}
 ]
}
]
}
